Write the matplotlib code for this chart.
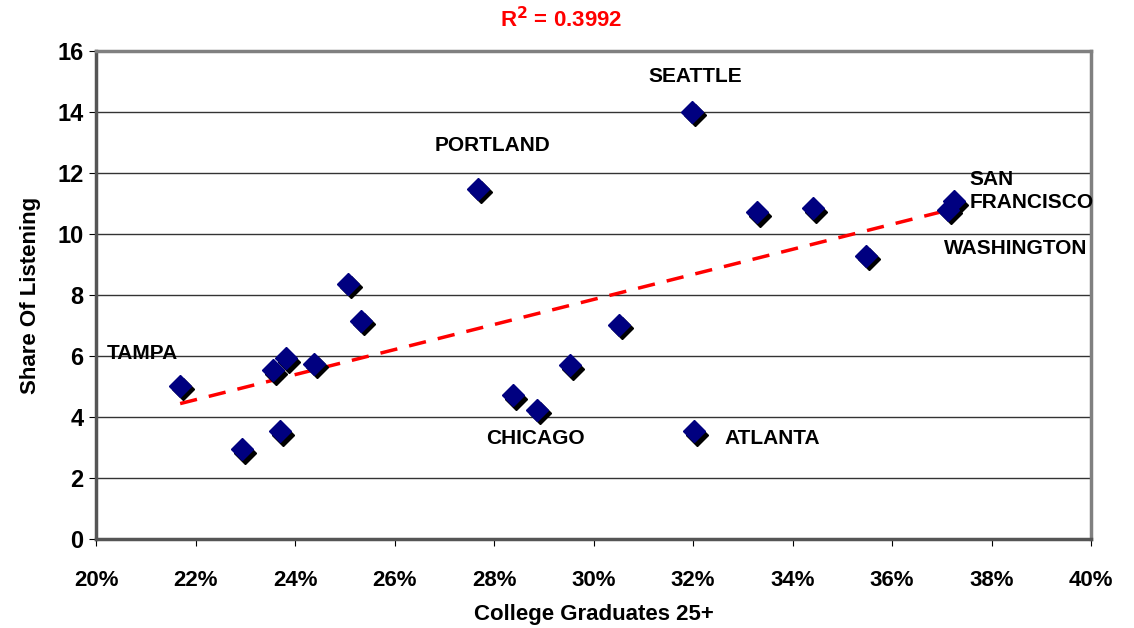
import numpy as np
import matplotlib.pyplot as plt
import matplotlib.transforms as mtransforms
from matplotlib.ticker import FuncFormatter

plt.rcParams['font.family'] = ['Liberation Sans', 'DejaVu Sans']

# College graduates 25+ (%) and share of listening
grads = [21.69, 22.93, 23.56, 23.82, 23.70, 24.38, 25.07, 25.33, 27.68, 28.38,
         28.86, 29.53, 30.51, 31.98, 32.02, 33.29, 34.41, 35.48, 37.25, 37.13]
share = [5.02, 2.95, 5.54, 5.93, 3.54, 5.74, 8.36, 7.15, 11.48, 4.72,
         4.23, 5.70, 7.02, 14.0, 3.54, 10.72, 10.85, 9.28, 11.08, 10.79]

# city labels: text, x, y, alignment
city_names = ["TAMPA", "PORTLAND", "SEATTLE", "CHICAGO", "ATLANTA", "SAN\nFRANCISCO", "WASHINGTON"]
city_x = [20.22, 27.96, 32.04, 28.84, 33.6, 37.55, 38.49]
city_y = [6.07, 12.89, 15.15, 3.28, 3.28, 11.4, 9.51]
city_ha = ["left", "center", "center", "center", "center", "left", "center"]

r2_text = r"R$^{\mathbf{2}}$ = 0.3992"

x = np.array(grads)
y = np.array(share)

fig = plt.figure(figsize=(11.34, 6.28), dpi=100)
ax = fig.add_axes([0.0847, 0.1417, 0.8775, 0.7771])

# trendline drawn at the data points
coef = np.polyfit(x, y, 1)
xs = np.sort(x)
ax.plot(xs, np.polyval(coef, xs), color='red', lw=2.5, ls=(0, (5, 3.5)), zorder=4)

# diamonds with black shadow
shadow = mtransforms.offset_copy(ax.transData, fig=fig, x=2, y=-2.5, units='points')
ax.plot(x, y, 'D', ms=11, color='black', mec='black', transform=shadow, zorder=5)
ax.plot(x, y, 'D', ms=11, color='#000080', mec='#000080', zorder=6)

for name, cx, cy, ha in zip(city_names, city_x, city_y, city_ha):
    ax.text(cx, cy, name, ha=ha, va='center', fontsize=15, fontweight='bold',
            linespacing=1.25, zorder=7)

ax.set_xlim(20, 40)
ax.set_ylim(0, 16)
ax.set_xticks(np.arange(20, 41, 2))
ax.set_yticks(np.arange(0, 17, 2))
ax.xaxis.set_major_formatter(FuncFormatter(lambda v, p: "%d%%" % v))
ax.yaxis.grid(True, color='#333333', lw=1)
ax.set_axisbelow(True)

for lab in ax.get_xticklabels() + ax.get_yticklabels():
    lab.set_fontweight('bold')
ax.tick_params(axis='x', labelsize=16)
ax.tick_params(axis='y', labelsize=17)
ax.tick_params(axis='both', direction='out', length=5, color='black')
ax.tick_params(axis='x', pad=17)
ax.tick_params(axis='y', pad=4)

for side in ['top', 'right']:
    ax.spines[side].set_color('#808080')
    ax.spines[side].set_linewidth(2.5)
for side in ['left', 'bottom']:
    ax.spines[side].set_color('#555555')
    ax.spines[side].set_linewidth(2.5)

ax.set_xlabel("College Graduates 25+", fontsize=16, fontweight='bold', labelpad=10)
ax.set_ylabel("Share Of Listening", fontsize=16, fontweight='bold', labelpad=12)

fig.text(0.495, 0.968, r2_text, color='red', fontsize=16, fontweight='bold',
         ha='center', va='center')

fig.savefig("out.png", dpi=100)
